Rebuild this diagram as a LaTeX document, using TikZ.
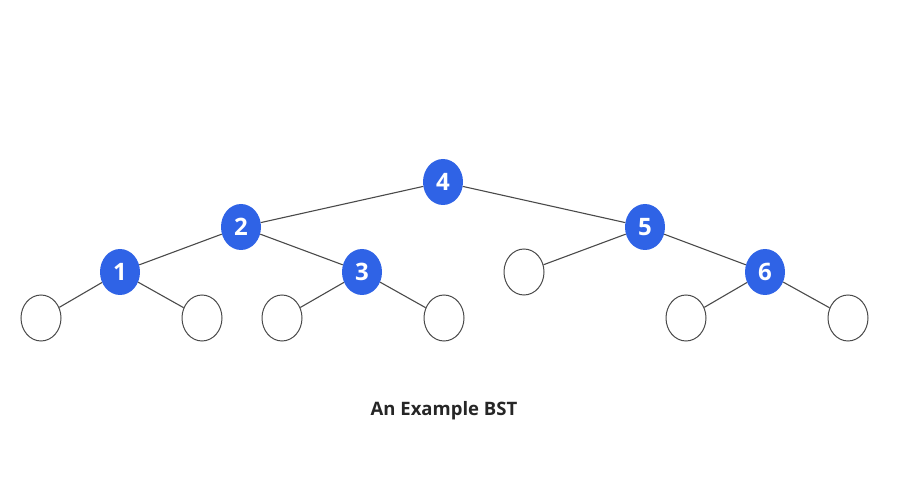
\documentclass[tikz,border=0pt]{standalone}
\usepackage{fontspec}
\setmainfont{Open Sans}
\usetikzlibrary{shapes.geometric}
\definecolor{nodeblue}{HTML}{2F63E6}
\definecolor{edgegray}{HTML}{4A4A4A}
\begin{document}
\begin{tikzpicture}[x=1pt,y=-1pt,
  full/.style={ellipse,fill=nodeblue,minimum width=40pt,minimum height=46pt,inner sep=0pt,text=white,font=\fontsize{24}{24}\selectfont\bfseries},
  empty/.style={ellipse,draw=edgegray,line width=1pt,fill=white,minimum width=40pt,minimum height=46pt,inner sep=0pt},
  edge/.style={draw=edgegray,line width=1.1pt}]
\useasboundingbox (0,0) rectangle (910,478);
\node[full] (n4) at (443,182) {4};
\node[full] (n2) at (241,227) {2};
\node[full] (n5) at (645,227) {5};
\node[full] (n1) at (120,272) {1};
\node[full] (n3) at (362,272) {3};
\node[empty] (e5) at (524,272) {};
\node[full] (n6) at (765,272) {6};
\node[empty] (a) at (41,318) {};
\node[empty] (b) at (202,318) {};
\node[empty] (c) at (282,318) {};
\node[empty] (d) at (444,318) {};
\node[empty] (e) at (686,318) {};
\node[empty] (f) at (848,318) {};
\draw[edge] (n4) -- (n2);
\draw[edge] (n4) -- (n5);
\draw[edge] (n2) -- (n1);
\draw[edge] (n2) -- (n3);
\draw[edge] (n5) -- (e5);
\draw[edge] (n5) -- (n6);
\draw[edge] (n1) -- (a);
\draw[edge] (n1) -- (b);
\draw[edge] (n3) -- (c);
\draw[edge] (n3) -- (d);
\draw[edge] (n6) -- (e);
\draw[edge] (n6) -- (f);
\node[font=\fontsize{18.5}{18.5}\selectfont\bfseries, text=black!85] (cap) at (444,411) {An Example BST};
\end{tikzpicture}
\end{document}
